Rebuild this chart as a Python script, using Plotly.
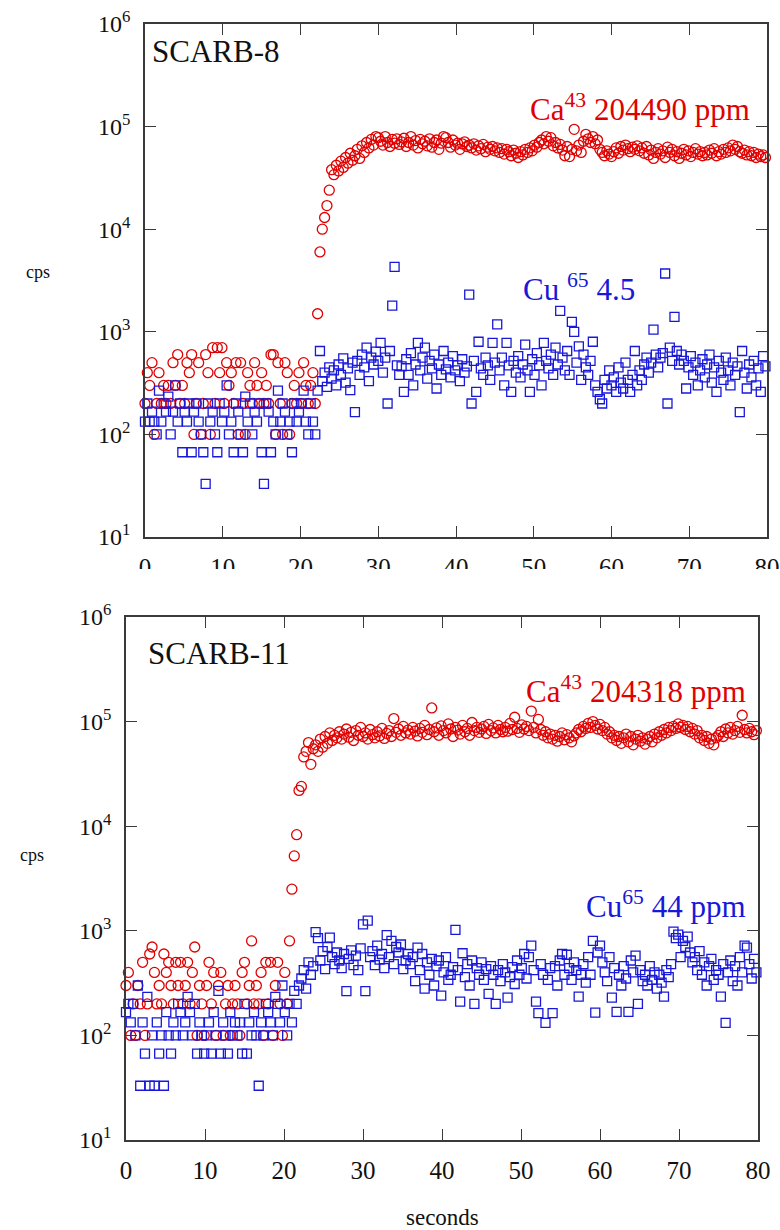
import plotly.graph_objects as go

W, H = 780, 1230
DT = 0.3  # sampling interval (s)
FONT = "Liberation Serif"
RED = "#e00000"
BLUE = "#1818d8"

# ---------------- SCARB-8 ----------------
ca8 = [
    200, 400, 300, 500, 100, 200, 400, 200, 300, 200,
    300, 200, 500, 300, 600, 200, 300, 200, 500, 400,
    600, 100, 200, 500, 100, 200, 600, 400, 100, 700,
    200, 700, 400, 700, 200, 500, 300, 400, 200, 500,
    100, 500, 200, 100, 400, 300, 200, 500, 300, 200,
    400, 200, 300, 200, 600, 600, 100, 500, 200, 100,
    500, 400, 100, 200, 300, 200, 400, 200, 500, 300,
    200, 300, 400, 200, 1500, 6000, 10000, 13000, 17000, 24000,
    38000, 34000, 42000, 37000, 46000, 40000, 50000, 44000, 55000, 47000,
    52000, 60000, 49000, 65000, 56000, 70000, 62000, 75000, 66000, 80000,
    78000, 72000, 66000, 80000, 70000, 64000, 75000, 69000, 76000, 67000,
    71000, 77000, 64000, 70000, 80000, 66000, 73000, 62000, 75000, 68000,
    72000, 65000, 76000, 63000, 70000, 74000, 60000, 69000, 80000, 78000,
    70000, 63000, 74000, 66000, 69000, 60000, 68000, 71000, 64000, 66000,
    62000, 68000, 59000, 65000, 61000, 67000, 57000, 63000, 60000, 64000,
    58000, 62000, 56000, 61000, 54000, 60000, 57000, 52000, 59000, 55000,
    50000, 57000, 53000, 60000, 56000, 62000, 58000, 66000, 63000, 70000,
    74000, 68000, 80000, 72000, 78000, 65000, 70000, 62000, 67000, 59000,
    52000, 64000, 51000, 60000, 94000, 58000, 66000, 56000, 72000, 84000,
    76000, 70000, 80000, 68000, 74000, 60000, 56000, 52000, 58000, 54000,
    51000, 57000, 62000, 55000, 64000, 59000, 66000, 61000, 57000, 63000,
    60000, 65000, 58000, 62000, 55000, 64000, 53000, 59000, 49000, 56000,
    61000, 54000, 58000, 50000, 63000, 56000, 60000, 52000, 57000, 49000,
    55000, 60000, 53000, 58000, 51000, 56000, 61000, 54000, 57000, 52000,
    56000, 53000, 59000, 55000, 61000, 52000, 57000, 54000, 60000, 56000,
    62000, 58000, 66000, 60000, 64000, 57000, 55000, 59000, 53000, 57000,
    52000, 56000, 50000, 54000, 51000, 53000, 50000,
]

cu8 = [
    133, 200, 133, 167, 133, 100, 267, 133, 200, 167,
    233, 100, 167, 300, 133, 200, 67, 167, 133, 200,
    67, 167, 200, 133, 100, 67, 33, 200, 133, 167,
    100, 67, 200, 133, 167, 300, 100, 133, 67, 200,
    167, 100, 67, 233, 133, 200, 100, 167, 133, 200,
    67, 33, 200, 167, 67, 133, 100, 267, 133, 200,
    167, 100, 133, 67, 200, 133, 167, 200, 267, 133,
    100, 200, 133, 100, 267, 650, 330, 400, 290, 450,
    350, 420, 300, 480, 380, 550, 320, 440, 270, 500,
    165, 520, 380, 600, 450, 700, 330, 560, 480, 640,
    520, 780, 400, 560, 200, 650, 1800, 4300, 470, 380,
    460, 260, 540, 380, 620, 300, 480, 780, 420, 560,
    700, 350, 520, 440, 600, 280, 480, 380, 650, 430,
    500, 360, 580, 420, 470, 330, 540, 400, 460, 2300,
    200, 520, 260, 800, 440, 380, 560, 470, 340, 780,
    500, 1180, 420, 560, 300, 780, 470, 260, 520, 400,
    580, 360, 480, 750, 420, 260, 540, 380, 620, 470,
    300, 780, 520, 440, 600, 380, 700, 480, 1600, 560,
    420, 650, 380, 1250, 1000, 500, 720, 340, 600, 450,
    380, 520, 800, 300, 260, 220, 200, 340, 280, 420,
    300, 360, 260, 450, 320, 280, 500, 340, 260, 380,
    650, 300, 420, 340, 480, 560, 400, 500, 1050, 600,
    450, 560, 620, 3700, 200, 700, 520, 1400, 650, 480,
    600, 520, 280, 450, 580, 380, 500, 300, 420, 540,
    360, 480, 600, 320, 450, 260, 520, 400, 340, 560,
    420, 300, 500, 380, 460, 165, 650, 400, 280, 480,
    360, 520, 300, 440, 260, 580, 460,
]

# ---------------- SCARB-11 ----------------
ca11 = [
    300, 400, 100, 200, 100, 300, 200, 500, 100, 200,
    600, 700, 400, 200, 300, 200, 600, 400, 500, 300,
    200, 500, 300, 500, 200, 300, 500, 200, 400, 700,
    100, 300, 200, 100, 300, 500, 200, 400, 100, 300,
    400, 100, 200, 300, 100, 200, 300, 200, 100, 400,
    500, 200, 300, 800, 200, 300, 200, 400, 100, 500,
    200, 500, 100, 300, 500, 200, 100, 400, 200, 800,
    2500, 5200, 8300, 22000, 24000, 46000, 52000, 63000, 39000, 55000,
    60000, 52000, 68000, 57000, 72000, 62000, 78000, 66000, 74000, 70000,
    80000, 68000, 76000, 85000, 71000, 79000, 66000, 82000, 74000, 88000,
    72000, 78000, 68000, 84000, 75000, 70000, 80000, 73000, 86000, 69000,
    77000, 82000, 72000, 107000, 79000, 85000, 74000, 90000, 78000, 83000,
    76000, 88000, 81000, 73000, 86000, 79000, 92000, 75000, 84000, 135000,
    80000, 87000, 74000, 91000, 82000, 78000, 95000, 85000, 72000, 88000,
    83000, 76000, 92000, 80000, 86000, 74000, 98000, 82000, 88000, 79000,
    85000, 90000, 77000, 94000, 82000, 87000, 78000, 92000, 84000, 80000,
    88000, 81000, 96000, 84000, 110000, 86000, 79000, 93000, 85000, 90000,
    82000, 126000, 88000, 78000, 105000, 84000, 74000, 80000, 70000, 76000,
    68000, 74000, 65000, 72000, 78000, 67000, 75000, 70000, 64000, 73000,
    78000, 84000, 80000, 90000, 86000, 96000, 88000, 100000, 92000, 85000,
    94000, 82000, 88000, 76000, 80000, 70000, 74000, 66000, 72000, 62000,
    70000, 76000, 64000, 72000, 60000, 68000, 74000, 65000, 70000, 61000,
    68000, 72000, 64000, 76000, 70000, 80000, 74000, 84000, 78000, 88000,
    82000, 90000, 86000, 95000, 88000, 92000, 84000, 90000, 80000, 86000,
    76000, 82000, 70000, 74000, 66000, 72000, 62000, 68000, 60000, 70000,
    74000, 80000, 72000, 85000, 78000, 88000, 76000, 82000, 90000, 79000,
    115000, 84000, 78000, 86000, 80000, 75000, 82000,
]

cu11 = [
    167, 200, 133, 200, 100, 300, 33, 133, 67, 233,
    33, 100, 33, 133, 67, 100, 33, 167, 100, 67,
    133, 100, 200, 167, 100, 133, 233, 167, 100, 200,
    67, 133, 100, 67, 100, 133, 67, 167, 100, 267,
    67, 133, 100, 67, 167, 100, 133, 100, 133, 67,
    200, 67, 133, 100, 167, 100, 33, 133, 100, 200,
    167, 133, 100, 233, 200, 133, 300, 167, 100, 200,
    133, 267, 200, 300, 350, 420, 280, 500, 380, 460,
    970, 850, 520, 640, 430, 700, 860, 560, 480, 620,
    520, 440, 600, 265, 540, 650, 470, 580, 420, 680,
    1150, 265, 1250, 560, 640, 470, 720, 530, 600, 440,
    910, 560, 800, 480, 700, 620, 740, 430, 520, 600,
    480, 560, 330, 690, 420, 600, 280, 500, 380, 540,
    300, 460, 520, 240, 400, 560, 340, 380, 450, 1020,
    420, 210, 610, 360, 480, 300, 520, 200, 440, 380,
    500, 340, 430, 250, 460, 380, 200, 420, 330, 480,
    400, 230, 360, 450, 310, 520, 380, 440, 600, 350,
    560, 720, 420, 210, 163, 480, 380, 132, 340, 440,
    163, 460, 300, 520, 600, 380, 590, 440, 340, 500,
    420, 235, 380, 480, 320, 560, 380, 800, 165, 620,
    720, 500, 400, 330, 560, 230, 440, 168, 380, 300,
    460, 350, 168, 520, 400, 580, 200, 420, 330, 380,
    300, 460, 340, 400, 280, 380, 320, 235, 420, 360,
    480, 980, 850, 920, 560, 800, 700, 880, 620, 500,
    560, 420, 640, 380, 500, 300, 460, 540, 340, 420,
    380, 235, 480, 132, 400, 520, 330, 460, 300, 560,
    400, 720, 690, 480, 350, 540, 400,
]

x_ticks = [0, 10, 20, 30, 40, 50, 60, 70, 80]
y_ticks = [1e1, 1e2, 1e3, 1e4, 1e5, 1e6]
y_ticktext = ["10<sup>1</sup>", "10<sup>2</sup>", "10<sup>3</sup>",
              "10<sup>4</sup>", "10<sup>5</sup>", "10<sup>6</sup>"]


def times(vals):
    return [round(i * DT, 2) for i in range(len(vals))]


def px(x):
    return x / W


def py(y):
    return 1 - y / H


fig = go.Figure()


def add_series(vals, xa, ya, symbol, color, size):
    fig.add_trace(go.Scatter(
        x=times(vals), y=vals, mode="markers", xaxis=xa, yaxis=ya,
        cliponaxis=False, showlegend=False, hoverinfo="skip",
        marker=dict(symbol=symbol, size=size, color=color,
                    line=dict(width=1.3, color=color)),
    ))


add_series(ca8, "x", "y", "circle-open", RED, 10)
add_series(cu8, "x", "y", "square-open", BLUE, 9)
add_series(ca11, "x2", "y2", "circle-open", RED, 10)
add_series(cu11, "x2", "y2", "square-open", BLUE, 9)

axis_common = dict(
    showline=True, linecolor="#3a3a3a", linewidth=1.6, mirror="ticks",
    ticks="inside", ticklen=11, tickwidth=1.4, tickcolor="#3a3a3a",
    showgrid=False, zeroline=False, automargin=False,
)

xcommon = dict(axis_common, range=[0, 80], tickvals=x_ticks,
               tickfont=dict(family=FONT, size=25, color="#111"),
               ticklabelstandoff=7)
ycommon = dict(axis_common, type="log", range=[1, 6], tickvals=y_ticks,
               ticktext=y_ticktext,
               tickfont=dict(family=FONT, size=24, color="#111"),
               ticklabelstandoff=8)

fig.update_layout(
    width=W, height=H, margin=dict(l=0, r=0, t=0, b=0, pad=0),
    paper_bgcolor="white", plot_bgcolor="white", showlegend=False,
    font=dict(family=FONT, color="#111"),
    xaxis=dict(xcommon, domain=[px(145), px(767)], anchor="y"),
    yaxis=dict(ycommon, domain=[py(537), py(24)], anchor="x"),
    xaxis2=dict(xcommon, domain=[px(126), px(758)], anchor="y2"),
    yaxis2=dict(ycommon, domain=[py(1140), py(617)], anchor="x2"),
)


def ann(text, x, y, size, color, xanchor="left"):
    return dict(text=text, xref="paper", yref="paper", x=px(x), y=py(y),
                xanchor=xanchor, yanchor="middle", showarrow=False,
                font=dict(family=FONT, size=size, color=color))


fig.update_layout(annotations=[
    ann("SCARB-8", 150, 52, 31, "#111"),
    ann("Ca<sup>43</sup> 204490 ppm", 752, 107, 31, RED, "right"),
    ann("Cu <sup>65</sup> 4.5", 521, 287, 31, BLUE),
    ann("SCARB-11", 146, 653, 31, "#111"),
    ann("Ca<sup>43</sup> 204318 ppm", 748, 689, 31, RED, "right"),
    ann("Cu<sup>65</sup> 44 ppm", 748, 904, 31, BLUE, "right"),
    ann("cps", 38, 272, 18, "#111", "center"),
    ann("cps", 32, 855, 18, "#111", "center"),
    ann("seconds", 442, 1217, 23, "#111", "center"),
])

# the upper panel's tick labels are cut off in the original figure
fig.add_shape(type="rect", xref="paper", yref="paper",
              x0=0, x1=1, y0=py(602), y1=py(569),
              fillcolor="white", line=dict(width=0), layer="above")

fig.write_html("out.html")
